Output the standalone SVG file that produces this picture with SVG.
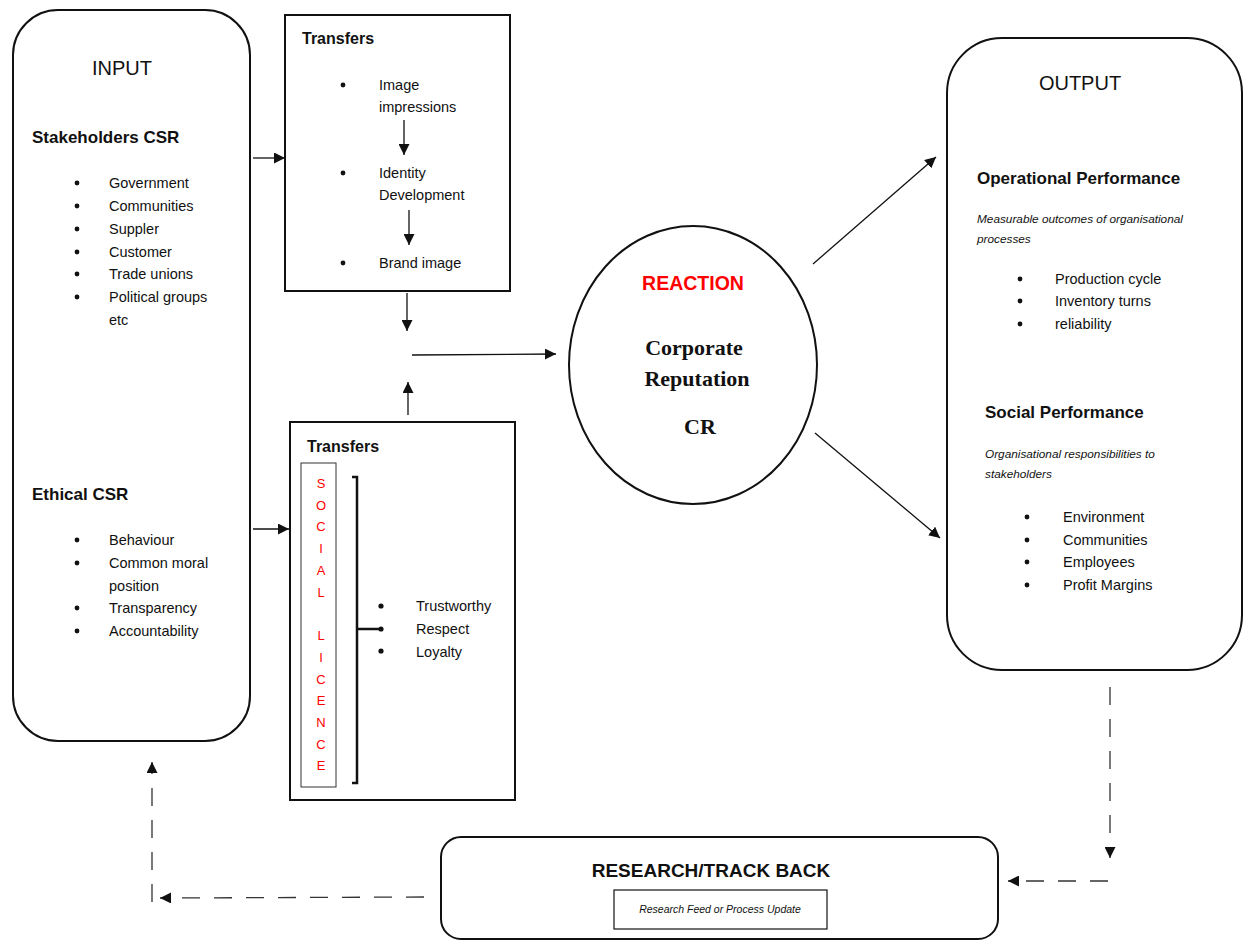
<svg xmlns="http://www.w3.org/2000/svg" width="1248" height="940" viewBox="0 0 1248 940">
<defs>
<style>
text{font-family:"Liberation Sans",Arial,sans-serif;fill:#111}
.h{font-size:20px}
.sub{font-size:17px;font-weight:bold}
.tr{font-size:16px;font-weight:bold}
.it{font-size:14.5px}
.em{font-size:11.8px;font-style:italic}
.red text{fill:#ff0000;font-size:13px;text-anchor:middle}
.ser{font-family:"Liberation Serif","Times New Roman",serif;font-size:22px;font-weight:bold;text-anchor:middle}
.box{fill:#fff;stroke:#111;stroke-width:2}
.ln{fill:none;stroke:#111;stroke-width:1.3}
.dash{fill:none;stroke:#333;stroke-width:1.3;stroke-dasharray:18 14}
</style>
<marker id="ah" viewBox="0 0 10 10" refX="10" refY="5" markerWidth="11" markerHeight="11" markerUnits="userSpaceOnUse" orient="auto">
<path d="M0,0 L10,5 L0,10 Z" fill="#111"/>
</marker>
</defs>
<rect width="1248" height="940" fill="#fff"/>

<g id="input">
<rect class="box" x="13" y="10" width="237" height="731" rx="45"/>
<text class="h" x="122" y="75" text-anchor="middle">INPUT</text>
<text class="sub" x="32" y="143">Stakeholders CSR</text>
<g class="it">
<text x="109" y="188">Government</text>
<text x="109" y="211">Communities</text>
<text x="109" y="234">Suppler</text>
<text x="109" y="257">Customer</text>
<text x="109" y="279">Trade unions</text>
<text x="109" y="302">Political groups</text>
<text x="109" y="325">etc</text>
</g>
<g fill="#111">
<circle cx="77" cy="183" r="2.4"/><circle cx="77" cy="206" r="2.4"/><circle cx="77" cy="229" r="2.4"/><circle cx="77" cy="252" r="2.4"/><circle cx="77" cy="274" r="2.4"/><circle cx="77" cy="297" r="2.4"/>
</g>
<text class="sub" x="32" y="500">Ethical CSR</text>
<g class="it">
<text x="109" y="545">Behaviour</text>
<text x="109" y="568">Common moral</text>
<text x="109" y="591">position</text>
<text x="109" y="613">Transparency</text>
<text x="109" y="636">Accountability</text>
</g>
<g fill="#111">
<circle cx="77" cy="540" r="2.4"/><circle cx="77" cy="563" r="2.4"/><circle cx="77" cy="608" r="2.4"/><circle cx="77" cy="631" r="2.4"/>
</g>
</g>

<g id="transfers-top">
<rect class="box" x="285" y="15" width="225" height="276"/>
<text class="tr" x="302" y="44">Transfers</text>
<g class="it">
<text x="379" y="90">Image</text>
<text x="379" y="112">impressions</text>
<text x="379" y="178">Identity</text>
<text x="379" y="200">Development</text>
<text x="379" y="268">Brand image</text>
</g>
<g fill="#111">
<circle cx="343" cy="85" r="2.4"/><circle cx="343" cy="173" r="2.4"/><circle cx="343" cy="263" r="2.4"/>
</g>
<line class="ln" x1="404" y1="120" x2="404" y2="155" marker-end="url(#ah)"/>
<line class="ln" x1="409" y1="210" x2="409" y2="245" marker-end="url(#ah)"/>
</g>

<g id="transfers-bottom">
<rect class="box" x="290" y="422" width="225" height="378"/>
<text class="tr" x="307" y="452">Transfers</text>
<rect x="301" y="463" width="35" height="324" fill="none" stroke="#333" stroke-width="1"/>
<g class="red">
<text x="321" y="488">S</text><text x="321" y="510">O</text><text x="321" y="531">C</text><text x="321" y="553">I</text><text x="321" y="575">A</text><text x="321" y="597">L</text>
<text x="321" y="640">L</text><text x="321" y="662">I</text><text x="321" y="684">C</text><text x="321" y="705">E</text><text x="321" y="727">N</text><text x="321" y="749">C</text><text x="321" y="770">E</text>
</g>
<path d="M352,477 H357 V783 H352" fill="none" stroke="#111" stroke-width="2.5"/>
<line x1="357" y1="629" x2="380" y2="629" stroke="#111" stroke-width="2.5"/>
<g fill="#111">
<circle cx="381" cy="606" r="2.6"/><circle cx="381" cy="629" r="2.6"/><circle cx="381" cy="651" r="2.6"/>
</g>
<g class="it">
<text x="416" y="611">Trustworthy</text>
<text x="416" y="634">Respect</text>
<text x="416" y="657">Loyalty</text>
</g>
</g>

<g id="reaction">
<ellipse class="box" cx="693" cy="365" rx="124" ry="139"/>
<text x="693" y="290" text-anchor="middle" style="fill:#ff0000;font-size:19.5px;font-weight:bold">REACTION</text>
<text class="ser" x="694" y="355">Corporate</text>
<text class="ser" x="697" y="386">Reputation</text>
<text class="ser" x="700" y="434">CR</text>
</g>

<g id="output">
<rect class="box" x="947" y="38" width="295" height="632" rx="55"/>
<text class="h" x="1080" y="90" text-anchor="middle">OUTPUT</text>
<text class="sub" x="977" y="184">Operational Performance</text>
<text class="em" x="977" y="223">Measurable outcomes of organisational</text>
<text class="em" x="977" y="243">processes</text>
<g class="it">
<text x="1055" y="284">Production cycle</text>
<text x="1055" y="306">Inventory turns</text>
<text x="1055" y="329">reliability</text>
</g>
<g fill="#111">
<circle cx="1020" cy="279" r="2.4"/><circle cx="1020" cy="301" r="2.4"/><circle cx="1020" cy="324" r="2.4"/>
</g>
<text class="sub" x="985" y="418">Social Performance</text>
<text class="em" x="985" y="458">Organisational responsibilities to</text>
<text class="em" x="985" y="478">stakeholders</text>
<g class="it">
<text x="1063" y="522">Environment</text>
<text x="1063" y="545">Communities</text>
<text x="1063" y="567">Employees</text>
<text x="1063" y="590">Profit Margins</text>
</g>
<g fill="#111">
<circle cx="1027" cy="517" r="2.4"/><circle cx="1027" cy="540" r="2.4"/><circle cx="1027" cy="562" r="2.4"/><circle cx="1027" cy="585" r="2.4"/>
</g>
</g>

<g id="research">
<rect class="box" x="441" y="837" width="557" height="102" rx="20"/>
<text x="711" y="877" text-anchor="middle" style="font-size:19px;font-weight:bold">RESEARCH/TRACK BACK</text>
<rect x="614" y="890" width="213" height="39" fill="none" stroke="#111" stroke-width="1.2"/>
<text x="720" y="913" text-anchor="middle" style="font-size:10.5px;font-style:italic">Research Feed or Process Update</text>
</g>

<g id="connectors">
<line class="ln" x1="253" y1="158" x2="285" y2="158" marker-end="url(#ah)"/>
<line class="ln" x1="253" y1="529" x2="289" y2="529" marker-end="url(#ah)"/>
<line class="ln" x1="407" y1="293" x2="407" y2="331" marker-end="url(#ah)"/>
<line class="ln" x1="408" y1="415" x2="408" y2="382" marker-end="url(#ah)"/>
<line class="ln" x1="412" y1="355" x2="556" y2="354" marker-end="url(#ah)"/>
<line class="ln" x1="813" y1="264" x2="936" y2="157" marker-end="url(#ah)"/>
<line class="ln" x1="815" y1="433" x2="940" y2="538" marker-end="url(#ah)"/>
<line class="dash" x1="1110" y1="687" x2="1110" y2="858" marker-end="url(#ah)"/>
<line class="dash" x1="1108" y1="881" x2="1008" y2="881" marker-end="url(#ah)"/>
<line class="dash" x1="424" y1="897" x2="160" y2="898" marker-end="url(#ah)"/>
<line class="dash" x1="152" y1="902" x2="152" y2="762" marker-end="url(#ah)"/>
</g>
</svg>
